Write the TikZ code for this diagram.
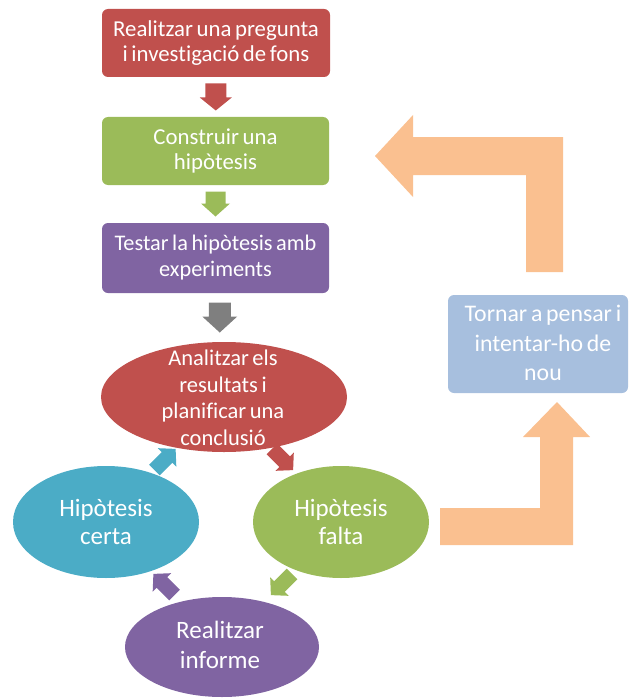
\documentclass[tikz,border=0pt]{standalone}
\usepackage{fontspec}
\setmainfont{Carlito}[WordSpace=0.7, Ligatures={NoCommon}]
\usetikzlibrary{shapes.geometric,calc}
\definecolor{cred}{HTML}{C0504D}
\definecolor{cgreen}{HTML}{9BBB59}
\definecolor{cpurple}{HTML}{8064A2}
\definecolor{ccyan}{HTML}{4BACC6}
\definecolor{cblue}{HTML}{A7BFDE}
\definecolor{corange}{HTML}{FAC090}
\definecolor{cgray}{HTML}{7F7F7F}
% block arrow: colour, centre, angle, length, shaft width, head width, head length
\newcommand{\blkarrow}[7]{%
  \fill[#1, shift={#2}, rotate=#3]
    (-#4/2,-#5/2) -- (#4/2-#7,-#5/2) -- (#4/2-#7,-#6/2) -- (#4/2,0)
    -- (#4/2-#7,#6/2) -- (#4/2-#7,#5/2) -- (-#4/2,#5/2) -- cycle;}
\begin{document}
\begin{tikzpicture}[x=1pt,y=-1pt,
  box/.style={rectangle, rounded corners=6pt, inner sep=0pt, text=white, align=center},
  ell/.style={ellipse, inner sep=0pt},
  txt/.style={text=white, align=center, inner sep=0pt}]
\useasboundingbox (0,0) rectangle (630,698);

% boxes
\node[box, fill=cred, minimum width=228pt, minimum height=68pt,
      font=\fontsize{22.8}{25}\selectfont] (b1) at (216,43)
      {Realitzar una pregunta\\i investigació de fons};
\node[box, fill=cgreen, minimum width=227pt, minimum height=68pt,
      font=\fontsize{22.8}{25}\selectfont] (b2) at (215.5,151)
      {Construir una\\hipòtesis};
\node[box, fill=cpurple, minimum width=227pt, minimum height=70pt,
      font=\fontsize{22.3}{26}\selectfont] (b3) at (215.5,258)
      {Testar la hipòtesis amb\\experiments};
\node[box, fill=cblue, minimum width=180pt, minimum height=98pt] (b4) at (538,344) {};
\node[txt, font=\fontsize{23.8}{29.5}\selectfont] (t4) at (543,343)
      {Tornar a pensar i\\intentar-ho de\\nou};

% ellipses
\node[ell, fill=cred, minimum width=246pt, minimum height=110pt] (e1) at (224,397) {};
\node[txt, font=\fontsize{22.5}{26.5}\selectfont] (t1) at (223,398)
      {Analitzar els\\resultats i\\planificar una\\conclusió};
\node[ell, fill=ccyan, minimum width=186pt, minimum height=112pt] (e2) at (106,522) {};
\node[txt, font=\fontsize{25}{28}\selectfont] (t2) at (e2) {Hipòtesis\\certa};
\node[ell, fill=cgreen, minimum width=176pt, minimum height=112pt] (e3) at (341,522) {};
\node[txt, font=\fontsize{25}{28}\selectfont] (t3) at (e3) {Hipòtesis\\falta};
\node[ell, fill=cpurple, minimum width=194pt, minimum height=100pt] (e4) at (222,647) {};
\node[txt, font=\fontsize{25}{30}\selectfont] (t5) at (220,645) {Realitzar\\informe};

% down arrows between boxes
\blkarrow{cred}{($(b1.south)!0.5!(b2.north)$)}{-90}{27}{21}{32}{13}
\blkarrow{cgreen}{($(b2.south)!0.5!(b3.north)$)}{-90}{25}{20}{29}{13}
\blkarrow{cgray}{($(b3.south)!0.5!(e1.north)$)}{-90}{30}{22}{35}{16}

% cycle arrows
\blkarrow{cred}{($(e1)!0.5!(e3)$)}{-45}{30}{15}{26}{12}
\blkarrow{cgreen}{($(e3)!0.5!(e4)$)}{-135}{30}{15}{26}{12}
\blkarrow{cpurple}{($(e4)!0.5!(e2)$)}{135}{30}{15}{26}{12}
\blkarrow{ccyan}{($(e2)!0.5!(e1)$)}{45}{30}{15}{26}{12}

% orange bent arrows
\fill[corange] (440,508) -- (540,508) -- (540,437) -- (523,437) -- (557,402)
  -- (590,437) -- (573,437) -- (573,545) -- (440,545) -- cycle;
\fill[corange] (563,272) -- (563,137) -- (413,137) -- (413,115) -- (375,156)
  -- (413,197) -- (413,175) -- (526,175) -- (526,272) -- cycle;
\end{tikzpicture}
\end{document}
